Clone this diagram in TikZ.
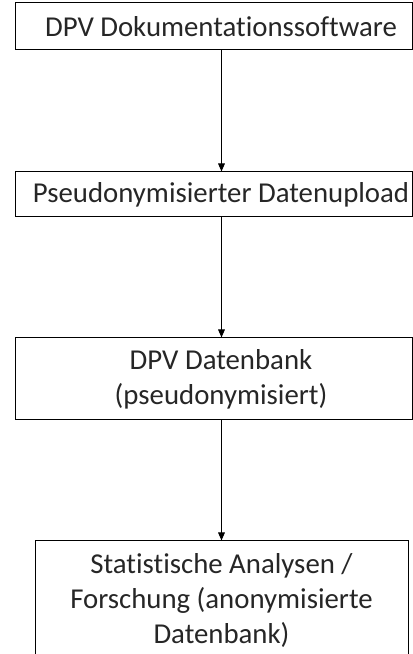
\documentclass[tikz,border=0pt]{standalone}
\usepackage{fontspec}
\setmainfont{Carlito}[Ligatures=NoCommon]
\usetikzlibrary{arrows.meta,positioning,calc}
\definecolor{boxtext}{RGB}{38,38,38}
\newcommand{\boxpad}{\hspace*{11.25pt}}

\begin{document}
\begin{tikzpicture}[
        x=0.75pt,y=0.75pt,
        box/.style={draw,line width=0.75pt,minimum width=297.75pt,inner sep=0pt,align=center,
            font=\fontsize{21.6}{26.25}\selectfont,text=boxtext},
        flow/.style={-{Triangle[length=6pt,width=5pt]},line width=0.75pt}
    ]
    \useasboundingbox (0,0) rectangle (413,654);

    % Boxes
    \node[box,minimum height=35.25pt] (doku) at (213.5,627.5) {\boxpad DPV Dokumentationssoftware};
    \node[box,minimum height=33.75pt] (upload) at (213.5,459.5) {\boxpad Pseudonymisierter Datenupload};
    \node[box,minimum height=61.5pt] (datenbank) at (213.5,275) {\boxpad DPV Datenbank\\\boxpad (pseudonymisiert)};
    \node[box,minimum width=279.75pt,minimum height=88.5pt] (analyse) at (221.5,54)
        {Statistische Analysen /\\Forschung (anonymisierte\\Datenbank)};

    % Connections
    \draw[flow] (doku.south -| analyse) -- (upload.north -| analyse);
    \draw[flow] (upload.south -| analyse) -- (datenbank.north -| analyse);
    \draw[flow] (datenbank.south -| analyse) -- (analyse.north);
\end{tikzpicture}
\end{document}
